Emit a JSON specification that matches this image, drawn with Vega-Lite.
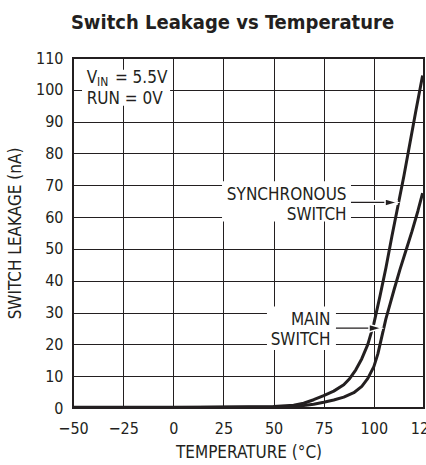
{
  "$schema": "https://vega.github.io/schema/vega-lite/v6.json",
  "autosize": {"type": "none"},
  "padding": {"left": 73, "top": 58, "right": 2, "bottom": 57},
  "width": 351,
  "height": 350,
  "background": "white",
  "title": {
    "text": "Switch Leakage vs Temperature",
    "font": "DejaVu Sans Condensed",
    "fontSize": 20,
    "fontWeight": "bold",
    "color": "#231f20",
    "anchor": "middle",
    "frame": "group",
    "dx": -16,
    "offset": 17
  },
  "config": {
    "font": "DejaVu Sans Condensed",
    "view": {"stroke": "#231f20", "strokeWidth": 2},
    "axis": {
      "gridColor": "#231f20",
      "gridOpacity": 1,
      "gridWidth": 1,
      "domain": false,
      "ticks": false,
      "labelColor": "#231f20",
      "titleColor": "#231f20",
      "labelFontSize": 16,
      "titleFontSize": 17,
      "titleFontWeight": "normal",
      "labelFlush": false,
      "labelOverlap": false
    }
  },
  "datasets": {
    "curves": [
      {"series": "Synchronous Switch", "temp": -50, "leak": 0.2},
      {"series": "Synchronous Switch", "temp": 0, "leak": 0.2},
      {"series": "Synchronous Switch", "temp": 25, "leak": 0.3},
      {"series": "Synchronous Switch", "temp": 50, "leak": 0.5},
      {"series": "Synchronous Switch", "temp": 60, "leak": 0.9},
      {"series": "Synchronous Switch", "temp": 65, "leak": 1.5},
      {"series": "Synchronous Switch", "temp": 70, "leak": 2.6},
      {"series": "Synchronous Switch", "temp": 75, "leak": 3.9},
      {"series": "Synchronous Switch", "temp": 80, "leak": 5.3},
      {"series": "Synchronous Switch", "temp": 85, "leak": 7.3},
      {"series": "Synchronous Switch", "temp": 88, "leak": 9.3},
      {"series": "Synchronous Switch", "temp": 91, "leak": 12},
      {"series": "Synchronous Switch", "temp": 94, "leak": 15.5},
      {"series": "Synchronous Switch", "temp": 97, "leak": 20},
      {"series": "Synchronous Switch", "temp": 100, "leak": 26.5},
      {"series": "Synchronous Switch", "temp": 103, "leak": 35},
      {"series": "Synchronous Switch", "temp": 106, "leak": 44},
      {"series": "Synchronous Switch", "temp": 109, "leak": 54},
      {"series": "Synchronous Switch", "temp": 112, "leak": 63.5},
      {"series": "Synchronous Switch", "temp": 115, "leak": 73},
      {"series": "Synchronous Switch", "temp": 118, "leak": 83.3},
      {"series": "Synchronous Switch", "temp": 121, "leak": 93.6},
      {"series": "Synchronous Switch", "temp": 124.3, "leak": 104.5},
      {"series": "Main Switch", "temp": -50, "leak": 0.1},
      {"series": "Main Switch", "temp": 0, "leak": 0.1},
      {"series": "Main Switch", "temp": 25, "leak": 0.2},
      {"series": "Main Switch", "temp": 50, "leak": 0.3},
      {"series": "Main Switch", "temp": 60, "leak": 0.5},
      {"series": "Main Switch", "temp": 65, "leak": 0.8},
      {"series": "Main Switch", "temp": 70, "leak": 1.2},
      {"series": "Main Switch", "temp": 75, "leak": 1.8},
      {"series": "Main Switch", "temp": 80, "leak": 2.5},
      {"series": "Main Switch", "temp": 85, "leak": 3.4},
      {"series": "Main Switch", "temp": 90, "leak": 4.8},
      {"series": "Main Switch", "temp": 94, "leak": 6.8},
      {"series": "Main Switch", "temp": 97, "leak": 9.3},
      {"series": "Main Switch", "temp": 100, "leak": 13},
      {"series": "Main Switch", "temp": 102, "leak": 17},
      {"series": "Main Switch", "temp": 104, "leak": 22.5},
      {"series": "Main Switch", "temp": 106, "leak": 28},
      {"series": "Main Switch", "temp": 108, "leak": 32.5},
      {"series": "Main Switch", "temp": 110, "leak": 37},
      {"series": "Main Switch", "temp": 113, "leak": 43.5},
      {"series": "Main Switch", "temp": 116, "leak": 49.5},
      {"series": "Main Switch", "temp": 119, "leak": 55.5},
      {"series": "Main Switch", "temp": 122, "leak": 62},
      {"series": "Main Switch", "temp": 124.3, "leak": 67.5}
    ],
    "boxes": [
      {"temp": -45.5, "temp2": -1.6, "leak": 95.0, "leak2": 106.3},
      {"temp": 24.3, "temp2": 88.6, "leak": 58.6, "leak2": 71.3},
      {"temp": 46.7, "temp2": 81.1, "leak": 18.2, "leak2": 31.9}
    ],
    "arrows": [
      {"temp": 88.6, "temp2": 111.9, "leak": 64.6},
      {"temp": 81.1, "temp2": 103.9, "leak": 25.1}
    ],
    "arrowheads": [
      {"temp": 111.9, "leak": 64.6},
      {"temp": 103.9, "leak": 25.1}
    ],
    "rightText": [
      {"temp": 86.4, "leak": 65.4, "label": "SYNCHRONOUS"},
      {"temp": 86.4, "leak": 59.1, "label": "SWITCH"},
      {"temp": 78.4, "leak": 26.1, "label": "MAIN"},
      {"temp": 78.4, "leak": 19.8, "label": "SWITCH"}
    ],
    "leftText": [
      {"temp": -43.2, "leak": 102.1, "label": "V"},
      {"temp": -29.1, "leak": 102.1, "label": "= 5.5V"},
      {"temp": -43.2, "leak": 95.6, "label": "RUN = 0V"}
    ],
    "subText": [
      {"temp": -38.0, "leak": 101.3, "label": "IN"}
    ]
  },
  "encoding": {
    "x": {
      "field": "temp", "type": "quantitative",
      "scale": {"domain": [-50, 125], "nice": false, "zero": false},
      "axis": {
        "values": [-50, -25, 0, 25, 50, 75, 100, 125],
        "grid": true,
        "labelPadding": 12,
        "title": "TEMPERATURE (°C)",
        "titlePadding": 8
      }
    },
    "y": {
      "field": "leak", "type": "quantitative",
      "scale": {"domain": [0, 110], "nice": false, "zero": false},
      "axis": {
        "values": [0, 10, 20, 30, 40, 50, 60, 70, 80, 90, 100, 110],
        "grid": true,
        "labelPadding": 10,
        "title": "SWITCH LEAKAGE (nA)",
        "titlePadding": 11
      }
    }
  },
  "layer": [
    {
      "data": {"name": "curves"},
      "mark": {"type": "line", "color": "#231f20", "strokeWidth": 3, "strokeJoin": "round", "strokeCap": "butt", "clip": true},
      "encoding": {
        "detail": {"field": "series", "type": "nominal"}
      }
    },
    {
      "data": {"name": "boxes"},
      "mark": {"type": "rect", "fill": "white"},
      "encoding": {
        "x2": {"field": "temp2"},
        "y2": {"field": "leak2"}
      }
    },
    {
      "data": {"name": "arrows"},
      "mark": {"type": "rule", "color": "white", "strokeWidth": 5},
      "encoding": {
        "x2": {"field": "temp2"}
      }
    },
    {
      "data": {"name": "arrows"},
      "mark": {"type": "rule", "color": "#231f20", "strokeWidth": 1.2},
      "encoding": {
        "x2": {"field": "temp2"}
      }
    },
    {
      "data": {"name": "arrowheads"},
      "mark": {"type": "point", "shape": "M -2 -0.6 L 0 0 L -2 0.6 Z", "filled": true, "color": "#231f20", "size": 160, "opacity": 1, "stroke": "white", "strokeWidth": 1.5},
      "encoding": {}
    },
    {
      "data": {"name": "rightText"},
      "mark": {"type": "text", "align": "right", "baseline": "alphabetic", "fontSize": 17, "color": "#231f20"},
      "encoding": {
        "text": {"field": "label"}
      }
    },
    {
      "data": {"name": "leftText"},
      "mark": {"type": "text", "align": "left", "baseline": "alphabetic", "fontSize": 17, "color": "#231f20"},
      "encoding": {
        "text": {"field": "label"}
      }
    },
    {
      "data": {"name": "subText"},
      "mark": {"type": "text", "align": "left", "baseline": "alphabetic", "fontSize": 12, "color": "#231f20"},
      "encoding": {
        "text": {"field": "label"}
      }
    }
  ]
}
